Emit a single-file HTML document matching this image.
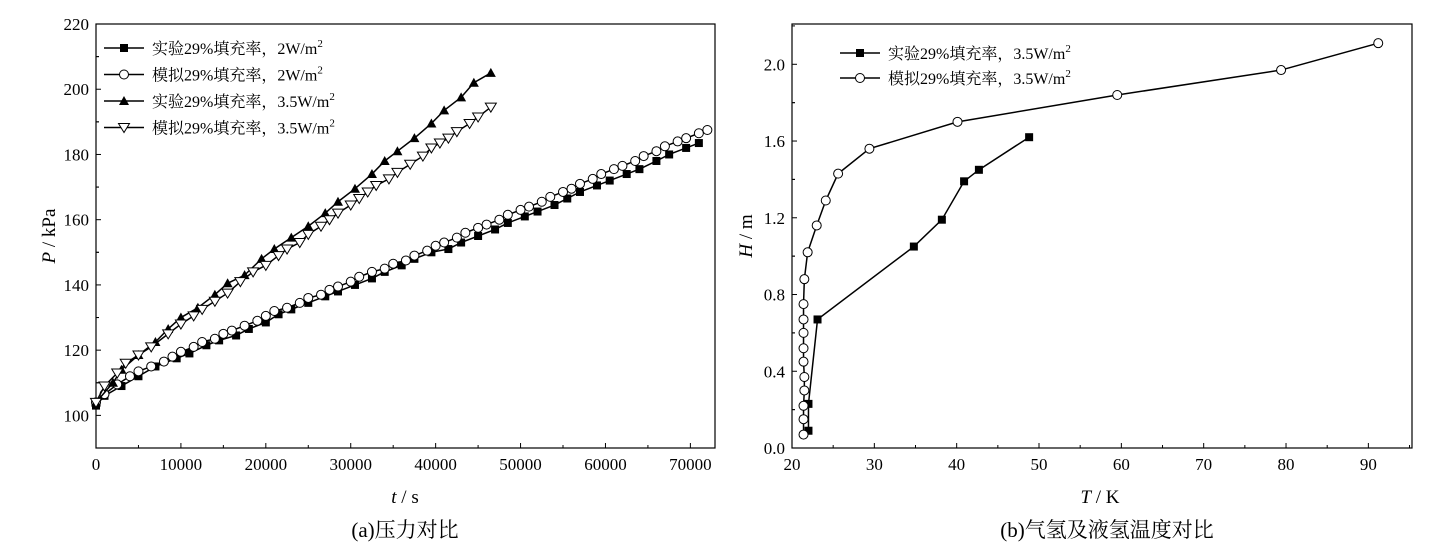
<!DOCTYPE html>
<html><head><meta charset="utf-8">
<style>
html,body{margin:0;padding:0;background:#fff;}
svg{display:block;font-family:"Liberation Serif","Noto Serif CJK SC",serif;}
</style></head>
<body>
<svg id="fig" width="1455" height="553" viewBox="0 0 1455 553" xmlns="http://www.w3.org/2000/svg"></svg>
<script>
// ---- Chart (a) data ----
const aXTicks = [0,10000,20000,30000,40000,50000,60000,70000];
const aYTicks = [100,120,140,160,180,200,220];
const exp2T = [0,1000,3000,5000,7000,9500,11000,13000,14500,16500,18000,20000,21500,23000,25000,27000,28500,30500,32500,34000,36000,37500,39500,41500,43000,45000,47000,48500,50500,52000,54000,55500,57000,59000,60500,62500,64000,66000,67500,69500,71000];
const exp2P = [103,106,109,112,115,117.5,119,121.5,123,124.5,126.5,128.5,131,132.5,134.5,136.5,138,140,142,144,146,148,150,151,153,155,157,159,161,162.5,164.5,166.5,168.5,170.5,172,174,175.5,178,180,182,183.5];
const sim2T = [0,1000,2500,4000,5000,6500,8000,9000,10000,11500,12500,14000,15000,16000,17500,19000,20000,21000,22500,24000,25000,26500,27500,28500,30000,31000,32500,34000,35000,36500,37500,39000,40000,41000,42500,43500,45000,46000,47500,48500,50000,51000,52500,53500,55000,56000,57000,58500,59500,61000,62000,63500,64500,66000,67000,68500,69500,71000,72000];
const sim2P = [104,106.5,109.5,112,113.5,115,116.5,118,119.5,121,122.5,123.5,125,126,127.5,129,130.5,132,133,134.5,136,137,138.5,139.5,141,142.5,144,145,146.5,147.5,149,150.5,152,153,154.5,156,157.5,158.5,160,161.5,163,164,165.5,167,168.5,169.5,171,172.5,174,175.5,176.5,178,179.5,181,182.5,184,185,186.5,187.5];
const exp35T = [0,2000,3000,5000,7000,8500,10000,12000,14000,15500,17500,19500,21000,23000,25000,27000,28500,30500,32500,34000,35500,37500,39500,41000,43000,44500,46500];
const exp35P = [104,110,114,118.5,122.5,126.5,130,133,137,140.5,143,148,151,154.5,158,162,165.5,169.5,174,178,181,185,189.5,193.5,197.5,202,205];
const sim35T = [0,1000,2500,3500,5000,6500,8500,10000,11500,12500,14000,15500,17000,18500,20000,21500,22500,24000,25000,26500,27500,28500,30000,31000,32000,33000,34500,35500,37000,38500,39500,40500,41500,42500,44000,45000,46500];
const sim35P = [104,109,113,116,118.5,121,125,128,130.5,132.5,135,137.5,141,144,146,149,151,153,155.5,158,160,162,164.5,166.5,168.5,170.5,172.5,174.5,177,179.5,182,183.5,185,187,189.5,191.5,194.5];
const aLegend = ["实验29%填充率，2W/m","模拟29%填充率，2W/m","实验29%填充率，3.5W/m","模拟29%填充率，3.5W/m"];
// ---- Chart (b) data ----
const bXTicks = [20,30,40,50,60,70,80,90];
const bYTicks = [0.0,0.4,0.8,1.2,1.6,2.0];
const expBT = [22,22,23.1,34.8,38.2,40.9,42.7,48.8];
const expBH = [0.09,0.23,0.67,1.05,1.19,1.39,1.45,1.62];
const simBT = [21.4,21.4,21.4,21.5,21.5,21.4,21.4,21.4,21.4,21.4,21.5,21.9,23,24.1,25.6,29.4,40.1,59.5,79.4,91.2];
const simBH = [0.07,0.15,0.22,0.30,0.37,0.45,0.52,0.60,0.67,0.75,0.88,1.02,1.16,1.29,1.43,1.56,1.70,1.84,1.97,2.11];
const bLegend = ["实验29%填充率，3.5W/m","模拟29%填充率，3.5W/m"];

const NS="http://www.w3.org/2000/svg";
const svg=document.getElementById('fig');
function mk(tag,attrs,parent){const e=document.createElementNS(NS,tag);for(const k in attrs)e.setAttribute(k,attrs[k]);(parent||svg).appendChild(e);return e;}

// axes
const ax={x0:96,x1:715,y0:448,y1:24,xmin:0,xmax:72900,ymin:90,ymax:220};
const bx={x0:792,x1:1412,y0:448,y1:24,xmin:20,xmax:95.3,ymin:0,ymax:2.21};
function sx(a,v){return a.x0+(v-a.xmin)/(a.xmax-a.xmin)*(a.x1-a.x0);}
function sy(a,v){return a.y0-(v-a.ymin)/(a.ymax-a.ymin)*(a.y0-a.y1);}

function marker(g,type,x,y,name){
  let e;
  if(type==='sq'){e=mk('rect',{x:x-4,y:y-4,width:8,height:8,fill:'#000'},g);}
  else if(type==='ci'){e=mk('circle',{cx:x,cy:y,r:4.5,fill:'#fff',stroke:'#000','stroke-width':1},g);}
  else if(type==='tu'){e=mk('polygon',{points:`${x},${y-5} ${x-5},${y+4} ${x+5},${y+4}`,fill:'#000'},g);}
  else {e=mk('polygon',{points:`${x},${y+5} ${x-5.5},${y-4} ${x+5.5},${y-4}`,fill:'#fff',stroke:'#000','stroke-width':1},g);}
  
  
}
function series(a,xs,ys,type,name){
  const g=mk('g',{});
  
  
  const pts=xs.map((v,i)=>sx(a,v)+','+sy(a,ys[i])).join(' ');
  const l=mk('polyline',{points:pts,fill:'none',stroke:'#000','stroke-width':1.5},g);
  
  
  xs.forEach((v,i)=>marker(g,type,sx(a,v),sy(a,ys[i]),name+'-point'));
}
function frame(a,xt,yt,xminor,yminor,fmtY,prefix){
  const f=mk('rect',{x:a.x0,y:a.y1,width:a.x1-a.x0,height:a.y0-a.y1,fill:'none',stroke:'#000','stroke-width':1.2});
  
  
  xt.forEach(v=>{const x=sx(a,v);
    mk('line',{x1:x,y1:a.y0,x2:x,y2:a.y0-5,stroke:'#000'});
    const t=mk('text',{x:x,y:a.y0+22,'text-anchor':'middle','font-size':17});t.textContent=v;
    
    
    const m=sx(a,v+xminor); if(m<a.x1) mk('line',{x1:m,y1:a.y0,x2:m,y2:a.y0-3,stroke:'#000'});
  });
  yt.forEach(v=>{const y=sy(a,v);
    mk('line',{x1:a.x0,y1:y,x2:a.x0+5,y2:y,stroke:'#000'});
    const t=mk('text',{x:a.x0-7,y:y+6,'text-anchor':'end','font-size':17});t.textContent=fmtY(v);
    
    
    const m=sy(a,v+yminor); if(m>a.y1) mk('line',{x1:a.x0,y1:m,x2:a.x0+3,y2:m,stroke:'#000'});
    const m2=sy(a,v-yminor); if(m2<a.y0) mk('line',{x1:a.x0,y1:m2,x2:a.x0+3,y2:m2,stroke:'#000'});
  });
}
frame(ax,aXTicks,aYTicks,5000,10,v=>v,'a');
frame(bx,bXTicks,bYTicks,5,0.2,v=>v.toFixed(1),'b');

series(ax,exp2T,exp2P,'sq','exp-2w-series');
series(ax,sim2T,sim2P,'ci','sim-2w-series');
series(ax,exp35T,exp35P,'tu','exp-3.5w-series');
series(ax,sim35T,sim35P,'td','sim-3.5w-series');
series(bx,expBT,expBH,'sq','exp-temp-series');
series(bx,simBT,simBH,'ci','sim-temp-series');

function legend(items,types,lx,ly,dy,prefix){
  items.forEach((s,i)=>{const y=ly+i*dy;
    const g=mk('g',{});
    
    
    mk('line',{x1:lx,y1:y,x2:lx+40,y2:y,stroke:'#000','stroke-width':1.5},g);
    marker(g,types[i],lx+20,y,prefix+'-legend-marker');
    const t=mk('text',{x:lx+48,y:y+6,'font-size':16},g);
    t.textContent=s;
    const sup=mk('tspan',{dy:-7,'font-size':11},t);sup.textContent='2';
  });
}
legend(aLegend,['sq','ci','tu','td'],104,48,26.5,'a');
legend(bLegend,['sq','ci'],840,53,25,'b');

function label(x,y,parts,name,rot,size){
  const t=mk('text',{x:x,y:y,'text-anchor':'middle','font-size':size||19});
  if(rot) t.setAttribute('transform',`rotate(-90 ${x} ${y})`);
  parts.forEach(p=>{const s=mk('tspan',p[1]?{'font-style':'italic'}:{},t);s.textContent=p[0];});
  
  
}
label(405,503,[['t',1],[' / s',0]],'a-x-axis-title');
label(55,236,[['P',1],[' / kPa',0]],'a-y-axis-title',true);
label(1100,503,[['T',1],[' / K',0]],'b-x-axis-title');
label(752,236,[['H',1],[' / m',0]],'b-y-axis-title',true);
label(405,537,[['(a)压力对比',0]],'a-caption',false,21);
label(1107,537,[['(b)气氢及液氢温度对比',0]],'b-caption',false,21);
</script>
</body></html>
